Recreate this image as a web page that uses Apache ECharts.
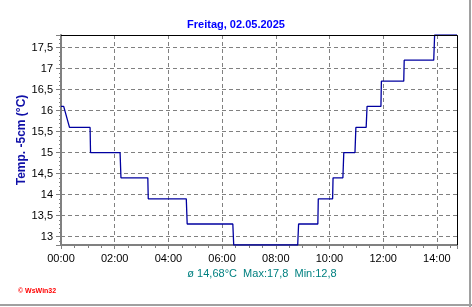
<!DOCTYPE html>
<html><head><meta charset="utf-8">
<script src="https://cdn.jsdelivr.net/npm/echarts@6/dist/echarts.min.js"></script>
<style>html,body{margin:0;padding:0;background:#fff}#c{width:472px;height:307px}</style>
</head><body><div id="c"></div>
<script>
const chartTitle = 'Freitag, 02.05.2025';
const yAxisName = 'Temp. -5cm (°C)';
const statsText = 'ø 14,68°C  Max:17,8  Min:12,8';
const copyrightText = '© WsWin32';
const times = ['00:00','00:06','00:19','01:05','01:06','02:12','02:14','03:14','03:15','04:40','04:42','06:24','06:26','08:49','08:51','09:34','09:35','10:07','10:08','10:30','10:32','10:57','10:59','11:22','11:24','11:55','11:56','12:46','12:47','13:53','13:55','14:45'];
const temps = [16.1,16.1,15.6,15.6,15.0,15.0,14.4,14.4,13.9,13.9,13.3,13.3,12.8,12.8,13.3,13.3,13.9,13.9,14.4,14.4,15.0,15.0,15.6,15.6,16.1,16.1,16.7,16.7,17.2,17.2,17.8,17.8];
const yMin = 12.8, yMax = 17.8;
const xStart = '00:00', xEnd = '14:45';

function toMin(s){const p=s.split(':').map(Number);return p[0]*60+p[1];}
function fmtTime(v){const h=Math.floor(v/60),m=Math.round(v%60);return String(h).padStart(2,'0')+':'+String(m).padStart(2,'0');}
const data = times.map((t,i)=>[toMin(t),temps[i]]);

const FONT = "'Liberation Sans', Arial, sans-serif";
const L=61, T=35, R=457, B=245;
const chart = echarts.init(document.getElementById('c'), null, {renderer:'canvas'});
chart.setOption({
  animation:false,
  backgroundColor:'#ffffff',
  title:{text:chartTitle,left:'center',top:14,textStyle:{color:'#0000ff',fontSize:11,fontWeight:'bold',fontFamily:FONT}},
  grid:{left:L,top:T,width:R-L,height:B-T,containLabel:false},
  xAxis:{type:'value',min:toMin(xStart),max:toMin(xEnd),interval:120,
    axisLine:{show:true,lineStyle:{color:'#808080',width:2}},
    axisTick:{show:true,length:4,lineStyle:{color:'#808080',width:1}},
    minorTick:{show:true,splitNumber:4,length:3,lineStyle:{color:'#808080',width:1}},
    axisLabel:{formatter:fmtTime,showMaxLabel:false,margin:8,color:'#000',fontSize:11,fontFamily:FONT},
    splitLine:{show:true,lineStyle:{color:'#808080',type:[4,3],width:1}}},
  yAxis:{type:'value',min:yMin,max:yMax,splitNumber:10,
    name:yAxisName,nameLocation:'middle',nameGap:33,nameMoveOverlap:false,
    nameTextStyle:{color:'#1010a8',fontSize:12,fontWeight:'bold',fontFamily:FONT},
    axisLine:{show:true,lineStyle:{color:'#808080',width:2}},
    axisTick:{show:true,length:5,lineStyle:{color:'#808080',width:1}},
    minorTick:{show:true,splitNumber:5,length:2,lineStyle:{color:'#808080',width:1}},
    axisLabel:{formatter:v=>String(v).replace('.',','),showMinLabel:false,showMaxLabel:false,margin:8,color:'#000',fontSize:11,fontFamily:FONT},
    splitLine:{show:true,lineStyle:{color:'#808080',type:[4,3],width:1}}},
  series:[{type:'line',data:data,showSymbol:false,symbol:'none',lineStyle:{color:'#0000a0',width:1.3},z:5}],
  graphic:[
    {type:'polyline',shape:{points:[[L,T+0.5],[R+0.5,T+0.5],[R+0.5,B]]},style:{stroke:'#000',lineWidth:1,fill:null},z:10},
    {type:'line',shape:{x1:470,y1:0,x2:470,y2:307},style:{stroke:'#a0a0a0',lineWidth:2},z:10},
    {type:'line',shape:{x1:0,y1:305,x2:472,y2:305},style:{stroke:'#a0a0a0',lineWidth:2},z:10},
    {type:'text',x:262,y:274,style:{text:statsText,align:'center',verticalAlign:'middle',fill:'#008080',fontSize:11,fontFamily:FONT},z:10},
    {type:'text',x:18,y:291,style:{text:copyrightText,align:'left',verticalAlign:'middle',fill:'#ff0000',fontSize:7,fontWeight:'bold',fontFamily:FONT},z:10}
  ]
});
</script></body></html>
